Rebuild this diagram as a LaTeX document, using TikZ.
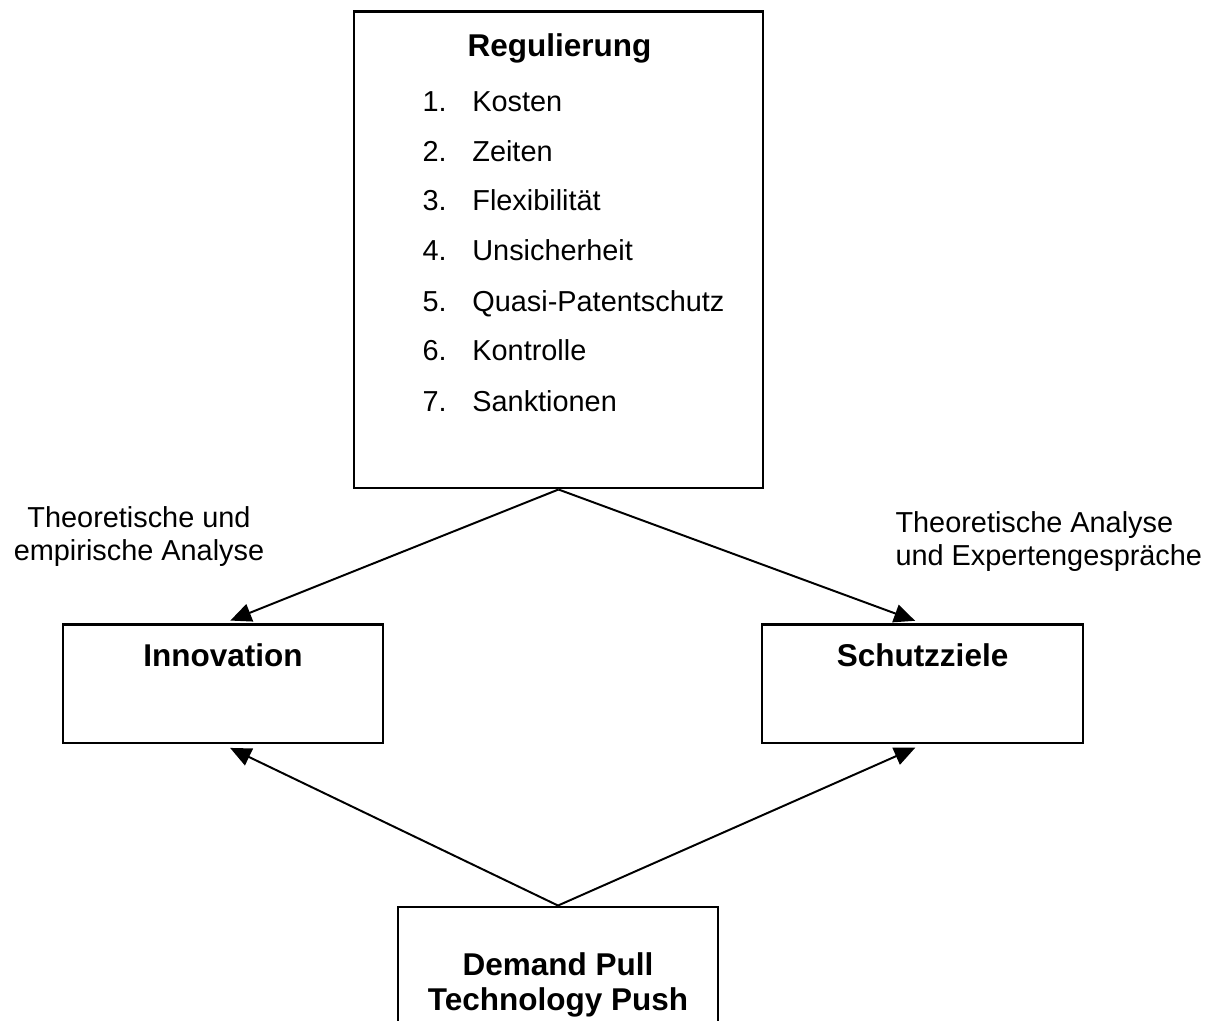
\documentclass[tikz,border=0pt]{standalone}
\usepackage{fontspec}
\setmainfont{Liberation Sans}
\usetikzlibrary{arrows.meta}

\tikzset{
  box/.style={draw, line width=1.1pt, inner sep=0pt},
  head/.style={font=\fontsize{12}{13.4}\selectfont\bfseries, inner sep=0pt, anchor=base},
  item/.style={font=\fontsize{11}{12.6}\selectfont, inner sep=0pt, anchor=base west},
  note/.style={font=\fontsize{11}{12.6}\selectfont, inner sep=0pt, anchor=north},
  arr/.style={-{Triangle[length=8pt,width=7pt]}, line width=0.75pt, shorten >=3pt},
}

\begin{document}
\begin{tikzpicture}[x=0.381pt,y=-0.381pt]
\useasboundingbox (0,0) rectangle (1218,1021);
\clip (0,0) rectangle (1218,1021);
\node[box, minimum width=155.8pt, minimum height=181.4pt] (reg) at (558.5,250) {};
\node[box, minimum width=121.9pt, minimum height=45pt] (inno) at (223,684) {};
\node[box, minimum width=122.3pt, minimum height=45pt] (schutz) at (922.5,684) {};
\node[box, minimum width=121.9pt, minimum height=58.3pt] (dp) at (558,983.5) {};
\node[head] (regt) at (559.5,57) {Regulierung};
\node[item] (l1) at (422,112) {\makebox[19pt][l]{1.}Kosten};
\node[item] (l2) at (422,162) {\makebox[19pt][l]{2.}Zeiten};
\node[item] (l3) at (422,211) {\makebox[19pt][l]{3.}Flexibilität};
\node[item] (l4) at (422,261) {\makebox[19pt][l]{4.}Unsicherheit};
\node[item] (l5) at (422,312) {\makebox[19pt][l]{5.}Quasi-Patentschutz};
\node[item] (l6) at (422,361) {\makebox[19pt][l]{6.}Kontrolle};
\node[item] (l7) at (422,412) {\makebox[19pt][l]{7.}Sanktionen};
\node[head] (innot) at (223,667) {Innovation};
\node[head] (schutzt) at (922.5,667) {Schutzziele};
\node[head, anchor=north, align=center] (dpt) at (558,952) {Demand Pull\\Technology Push};
\node[note, align=center] (lnote) at (139,506) {Theoretische und\\empirische Analyse};
\node[note, anchor=north west, align=left] (rnote) at (895,511) {Theoretische Analyse\\und Expertengespräche};
\draw (reg.south) edge[arr] (inno.north);
\draw (reg.south) edge[arr] (schutz.north);
\draw (dp.north) edge[arr] (inno.south);
\draw (dp.north) edge[arr] (schutz.south);
\end{tikzpicture}
\end{document}
